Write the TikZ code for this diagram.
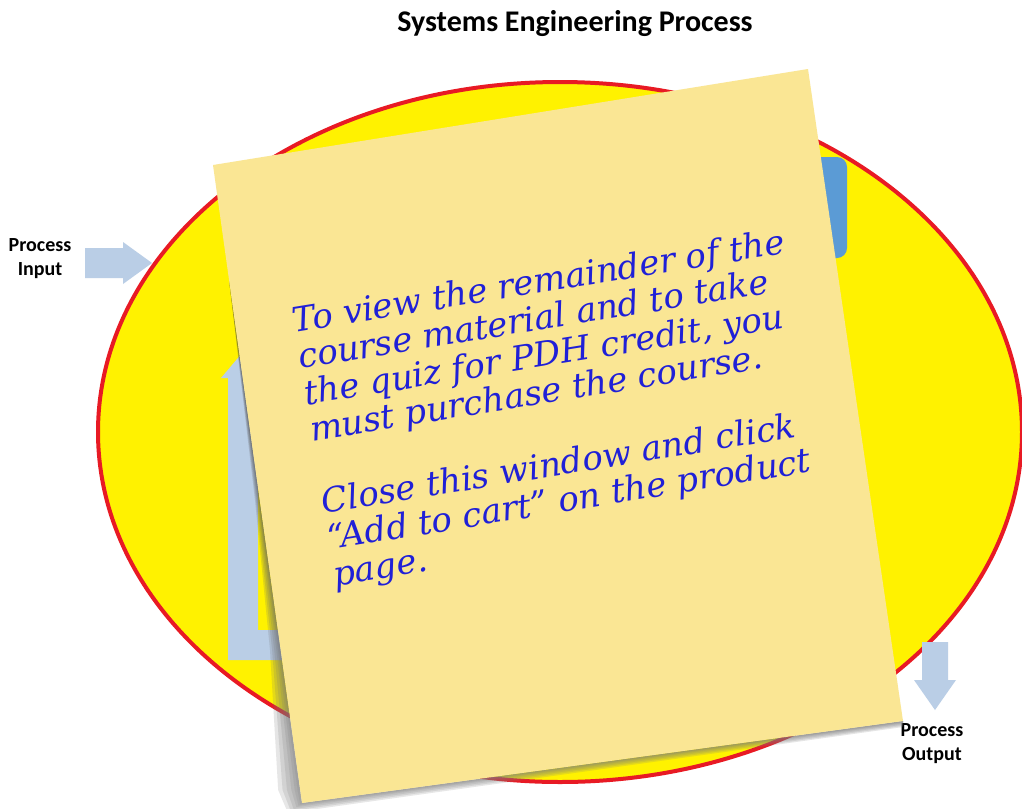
\documentclass[tikz,border=0pt]{standalone}
\usepackage{fontspec}
\setmainfont{Carlito}
\newfontfamily\handfont{DejaVu Serif}
\definecolor{ellyellow}{RGB}{255,242,0}
\definecolor{ellred}{RGB}{232,26,36}
\definecolor{arrowblue}{RGB}{186,206,230}
\definecolor{boxblue}{RGB}{91,155,213}
\definecolor{notey}{RGB}{250,230,148}
\definecolor{inkblue}{RGB}{32,32,215}
\definecolor{shade}{RGB}{135,130,95}
\tikzset{
  flowarrow/.style={fill=arrowblue, draw=none},
  labeltext/.style={align=center, font=\bfseries\fontsize{15}{18}\selectfont, inner sep=0pt},
  notepaper/.style={fill=notey, draw=none},
  inktext/.style={anchor=north west, rotate=9.2, inner sep=0pt, align=left,
     font=\handfont\itshape\fontsize{25.5}{27.5}\selectfont, text=inkblue},
}
\begin{document}
\begin{tikzpicture}[x=0.75pt,y=-0.75pt]
\useasboundingbox[fill=white] (0,0) rectangle (1022,808);
% title
\node[font=\bfseries\fontsize{22.5}{26}\selectfont, inner sep=0pt] (title) at (575,24) {Systems Engineering Process};
% input arrow
\fill[flowarrow] (85,248) -- (123,248) -- (123,242) -- (152,263) -- (123,284) -- (123,278) -- (85,278) -- cycle;
\node[labeltext] (input) at (40,259) {Process\\Input};
% ellipse
\draw[fill=ellyellow, draw=ellred, line width=3pt] (560,432) ellipse [x radius=462, y radius=350];
% blue box
\fill[boxblue, rounded corners=7.5pt] (690,157) rectangle (847,258);
% L arrow
\fill[flowarrow] (228,660) -- (228,378) -- (221,378) -- (243,352) -- (265,378) -- (258,378) -- (258,630) -- (420,630) -- (420,660) -- cycle;
% output arrow
\fill[flowarrow] (922,642) -- (948,642) -- (948,680) -- (956,680) -- (935,710) -- (914,680) -- (922,680) -- cycle;
\node[labeltext] (output) at (932,744) {Process\\Output};
% note shadow
\foreach \f in {1,0.8,0.6,0.4,0.25,0.12}{
  \fill[shade, opacity=0.1] (229,280) -- (259.7-4.7*\f,500) -- (280.7-10.7*\f,650)
     -- (300.2-22*\f,790) -- (302-14*\f,803+10*\f) -- (903,721+6*\f) -- (903,721) -- (302,803) -- cycle;
}
% note
\fill[notepaper] (213,165) -- (808,69) -- (903,721) -- (302,803) -- cycle;
\node[inktext] (msg) at (290,307) {To view the remainder of the\\
course material and to take\\
the quiz for PDH credit, you\\
must purchase the course.\\[27.5pt]
Close this window and click\\
“Add to cart” on the product\\
page.};
\end{tikzpicture}
\end{document}
